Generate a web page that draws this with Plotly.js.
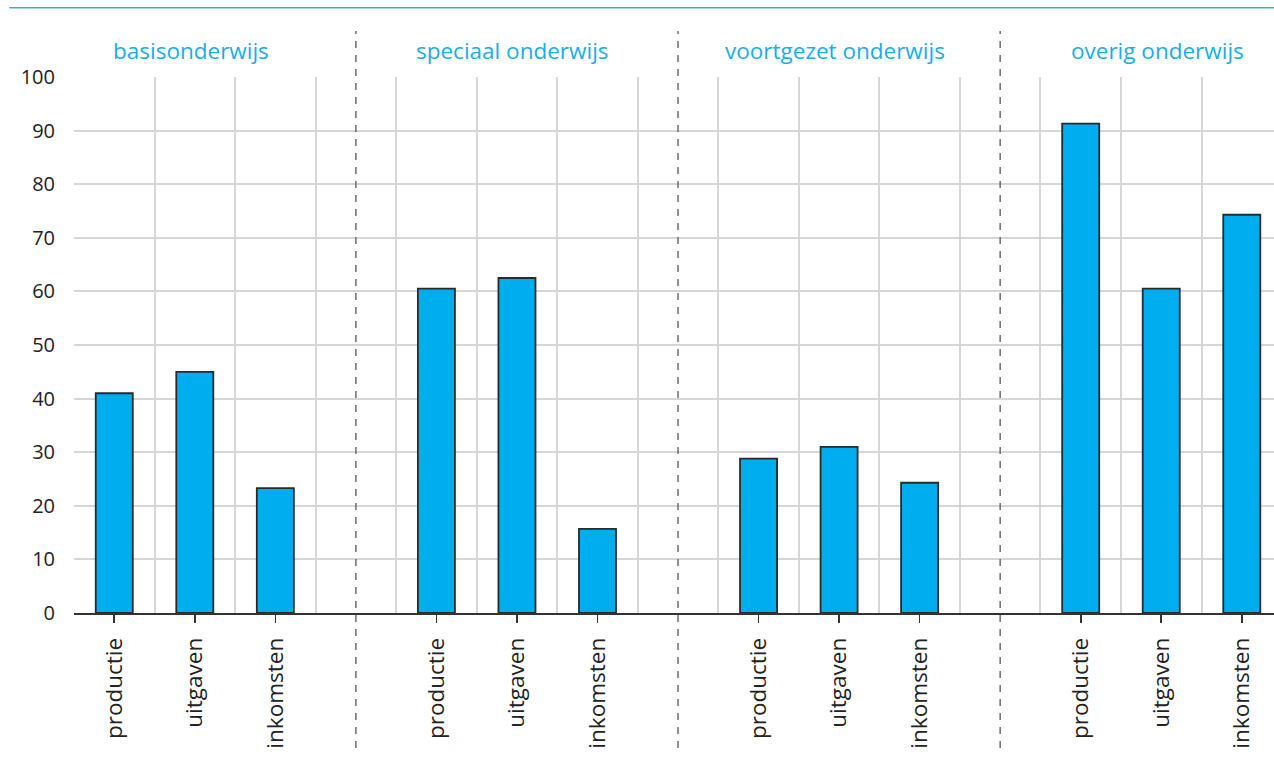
<!DOCTYPE html>
<html>
<head>
<meta charset="utf-8">
<script src="https://cdn.plot.ly/plotly-3.0.1.min.js"></script>
<style>
html,body{margin:0;padding:0;background:#fff;}
#chart{width:1274px;height:769px;}
</style>
</head>
<body>
<div id="chart"></div>
<script>
// Data
const groups = ["basisonderwijs", "speciaal onderwijs", "voortgezet onderwijs", "overig onderwijs"];
const measures = ["productie", "uitgaven", "inkomsten"];
const basisonderwijs = [41, 45, 23.3];
const speciaalOnderwijs = [60.5, 62.5, 15.7];
const voortgezetOnderwijs = [28.8, 31, 24.3];
const overigOnderwijs = [91.3, 60.5, 74.3];
const seriesValues = [basisonderwijs, speciaalOnderwijs, voortgezetOnderwijs, overigOnderwijs];
const yTicks = [0, 10, 20, 30, 40, 50, 60, 70, 80, 90, 100];

// Layout: each group has 3 bar slots + 1 empty slot
const slotsPerGroup = 4;
const xs = [], ys = [], tickvals = [], ticktext = [];
seriesValues.forEach((vals, g) => {
  vals.forEach((v, i) => {
    const x = g * slotsPerGroup + i + 0.5;
    xs.push(x); ys.push(v);
    tickvals.push(x); ticktext.push(measures[i]);
  });
});
const nSlots = groups.length * slotsPerGroup - 1;
const boundaries = [];
for (let b = 0; b < nSlots; b++) boundaries.push(b);

const blue = "#00adee";
const titleBlue = "#17aee9";

const shapes = [
  // top rule
  {type: "line", xref: "paper", yref: "paper", x0: -0.054, x1: 1, y0: 1.129, y1: 1.129,
   line: {color: "#3aa9dd", width: 1.5}}
];
for (let g = 0; g < groups.length - 1; g++) {
  const x = g * slotsPerGroup + 3.5;
  shapes.push({type: "line", xref: "x", yref: "paper", x0: x, x1: x, y0: -0.252, y1: 1.086,
    line: {color: "#6d6d6d", width: 1.5, dash: "7px,7px"}});
}

const annotations = groups.map((name, g) => ({
  text: name, xref: "x", yref: "paper",
  x: g * slotsPerGroup + 1.45, y: 1.05, xanchor: "center", yanchor: "middle",
  showarrow: false, font: {family: "Open Sans, sans-serif", size: 22.5, color: titleBlue}
}));

const trace = {
  type: "bar", x: xs, y: ys, width: 0.46,
  marker: {color: blue, line: {color: "#2a2a2a", width: 1.8}},
  hoverinfo: "skip"
};

const layout = {
  width: 1274, height: 769,
  margin: {l: 74, r: 0, t: 77, b: 156},
  paper_bgcolor: "#fff", plot_bgcolor: "#fff",
  showlegend: false,
  font: {family: "Open Sans, sans-serif", size: 21, color: "#222"},
  xaxis: {
    range: [0, 14.9], showgrid: false, zeroline: false,
    tickmode: "array", tickvals: tickvals, ticktext: ticktext, tickangle: -90,
    ticks: "outside", ticklen: 8, tickwidth: 1.6, tickcolor: "#333",
    ticklabelstandoff: 6,
    showline: true, linecolor: "#333", linewidth: 1.8,
    tickfont: {size: 22.5, color: "#222"},
    minor: {tickmode: "array", tickvals: boundaries, showgrid: true, gridcolor: "#d6d6d6", gridwidth: 2, ticks: ""}
  },
  yaxis: {
    range: [0, 100], tickmode: "array", tickvals: yTicks,
    showgrid: true, gridcolor: "#d6d6d6", gridwidth: 2, zeroline: false,
    ticks: "outside", ticklen: 14, tickcolor: "rgba(0,0,0,0)",
    showline: false, tickfont: {size: 20, color: "#222"}
  },
  shapes: shapes,
  annotations: annotations
};

Plotly.newPlot("chart", [trace], layout, {displayModeBar: false, staticPlot: true});
</script>
</body>
</html>
